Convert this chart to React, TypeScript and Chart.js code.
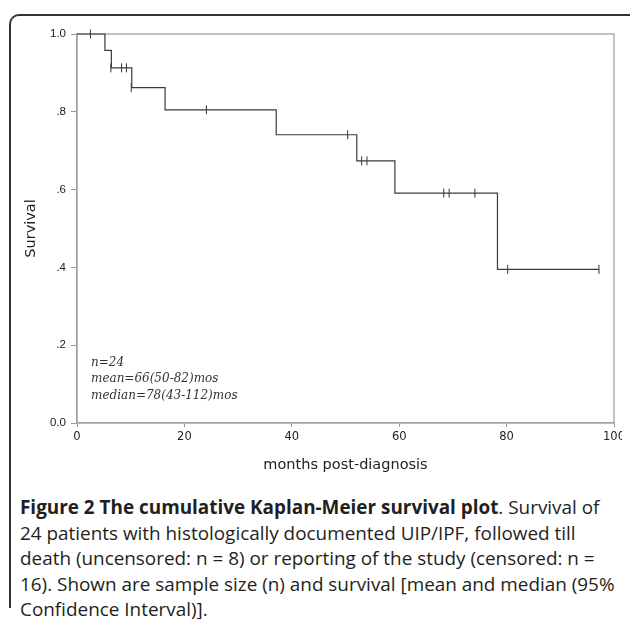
import React, { useEffect, useRef } from "react";
import { Chart, registerables } from "chart.js";

Chart.register(...registerables);

// Kaplan-Meier step curve: event times (months) and survival after each event
const kmTimes = [0, 5.2, 6.4, 10.2, 16.4, 37.1, 52.1, 59.2, 78.3, 97.2];
const kmSurvival = [1.0, 0.958, 0.913, 0.862, 0.805, 0.741, 0.674, 0.591, 0.395, 0.395];

// Censored observations (tick marks)
const censorTimes = [2.5, 6.3, 8.3, 9.2, 10.1, 24.1, 50.4, 53.0, 54.0, 68.3, 69.3, 74.1, 80.2, 97.2];
const censorSurvival = [1.0, 0.913, 0.913, 0.913, 0.862, 0.805, 0.741, 0.674, 0.674, 0.591, 0.591, 0.591, 0.395, 0.395];

const yTickLabels = ["0.0", ".2", ".4", ".6", ".8", "1.0"];
const xTickValues = [0, 20, 40, 60, 80, 100];

const annotationLines = ["n=24", "mean=66(50-82)mos", "median=78(43-112)mos"];

const captionBold = "Figure 2 The cumulative Kaplan-Meier survival plot";
const captionLines = [
  ". Survival of",
  "24 patients with histologically documented UIP/IPF, followed till",
  "death (uncensored: n = 8) or reporting of the study (censored: n =",
  "16). Shown are sample size (n) and survival [mean and median (95%",
  "Confidence Interval)].",
];

const FRAME = "#a6a192";
const LINE = "#3a3a3a";

const framePlugin = {
  id: "frame",
  beforeDatasetsDraw(chart: any) {
    const { ctx, chartArea } = chart;
    ctx.save();
    ctx.strokeStyle = FRAME;
    ctx.lineWidth = 1.3;
    ctx.strokeRect(chartArea.left, chartArea.top, chartArea.right - chartArea.left, chartArea.bottom - chartArea.top);
    ctx.restore();
  },
  afterDraw(chart: any) {
    const { ctx, chartArea } = chart;
    ctx.save();
    ctx.fillStyle = "#333";
    ctx.font = "italic 12px 'DejaVu Serif'";
    ctx.textBaseline = "middle";
    ctx.textAlign = "left";
    const offs = [-60, -44, -27.5];
    annotationLines.forEach((t, i) => {
      ctx.fillText(t, chartArea.left + 14, chartArea.bottom + offs[i]);
    });
    ctx.restore();
  },
};

export default function App() {
  const ref = useRef<HTMLCanvasElement | null>(null);

  useEffect(() => {
    if (!ref.current) return;
    const chart = new Chart(ref.current, {
      type: "line",
      data: {
        datasets: [
          {
            data: kmTimes.map((t, i) => ({ x: t, y: kmSurvival[i] })),
            stepped: true,
            borderColor: LINE,
            borderWidth: 1.2,
            pointRadius: 0,
            fill: false,
            clip: false as any,
          },
          {
            data: censorTimes.map((t, i) => ({ x: t, y: censorSurvival[i] })),
            showLine: false,
            pointStyle: "line",
            rotation: 90,
            pointRadius: 4.5,
            borderColor: "#333",
            borderWidth: 1,
            backgroundColor: "#333",
            clip: false as any,
          },
        ],
      },
      options: {
        animation: false,
        responsive: false,
        events: [],
        layout: { padding: { left: 0, right: 26, top: 34, bottom: 0 } },
        plugins: { legend: { display: false }, tooltip: { enabled: false }, title: { display: false } },
        scales: {
          x: {
            type: "linear",
            min: 0,
            max: 100,
            afterFit: (s: any) => {
              s.height = 57;
            },
            afterBuildTicks: (s: any) => {
              s.ticks = xTickValues.map((v) => ({ value: v }));
            },
            ticks: {
              padding: 3,
              color: "#222",
              font: { family: "'DejaVu Sans'", size: 11.5 },
              maxRotation: 0,
              callback: (v: any) => String(v),
            },
            grid: { drawOnChartArea: false, tickLength: 4, color: "#999" },
            border: { color: FRAME, width: 1.3 },
            title: {
              display: true,
              text: "months post-diagnosis",
              color: "#222",
              font: { family: "'DejaVu Sans'", size: 14.5 },
              padding: { top: 0, bottom: 6 },
            },
          },
          y: {
            type: "linear",
            min: 0,
            max: 1,
            afterFit: (s: any) => {
              s.width = 77;
            },
            ticks: {
              stepSize: 0.2,
              padding: 5,
              color: "#222",
              font: { family: "'Liberation Sans', Arial", size: 11.5 },
              callback: (_v: any, i: number) => yTickLabels[i],
            },
            grid: { drawOnChartArea: false, tickLength: 6, color: "#999" },
            border: { color: FRAME, width: 1.3 },
            title: {
              display: true,
              text: "Survival",
              color: "#222",
              font: { family: "'DejaVu Sans'", size: 14.5 },
              padding: { top: 23, bottom: 0 },
            },
          },
        },
      },
      plugins: [framePlugin],
    });
    return () => chart.destroy();
  }, []);

  return (
    <div style={{ position: "absolute", left: 0, top: 0, width: 630, height: 619, overflow: "hidden", background: "#fff" }}>
      <div
        style={{
          position: "absolute",
          left: 9,
          top: 14,
          width: 700,
          height: 594,
          borderLeft: "2px solid #333",
          borderTop: "2px solid #333",
          borderTopLeftRadius: 10,
          boxSizing: "border-box",
        }}
      />
      <div style={{ position: "absolute", left: 0, top: 0, width: 622, height: 480, overflow: "hidden" }}>
        <canvas ref={ref} width={640} height={480} style={{ width: 640, height: 480, display: "block" }} />
      </div>
      <div
        style={{
          position: "absolute",
          left: 20,
          top: 495,
          fontFamily: "'Open Sans', sans-serif",
          fontSize: 18.9,
          lineHeight: "25.6px",
          color: "#231f20",
          whiteSpace: "nowrap",
        }}
      >
        {captionLines.map((l, i) => (
          <div key={i}>
            {i === 0 ? <b>{captionBold}</b> : null}
            {l}
          </div>
        ))}
      </div>
    </div>
  );
}
